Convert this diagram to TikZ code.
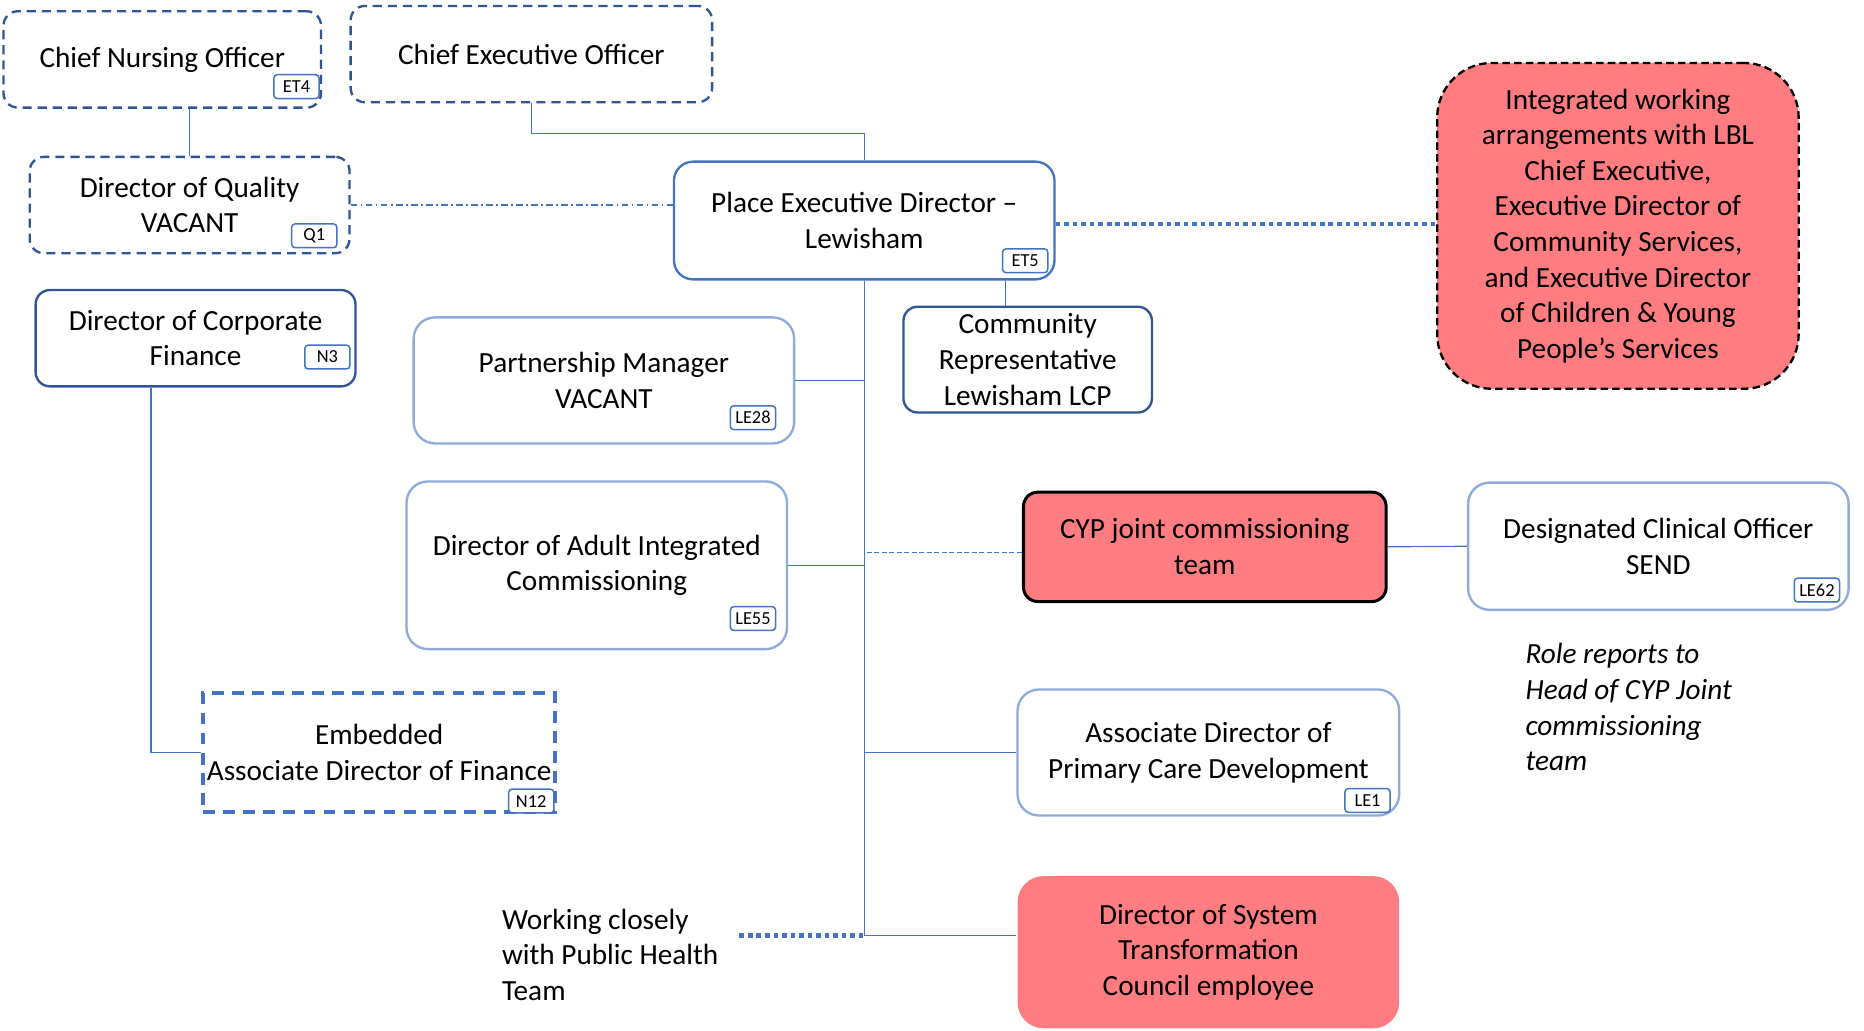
\documentclass[tikz,border=0pt]{standalone}
\usepackage{fontspec}
\setmainfont{Carlito}
\definecolor{darkblue}{RGB}{47,85,151}
\definecolor{midblue}{RGB}{68,114,196}
\definecolor{lightblue}{RGB}{143,170,220}
\definecolor{rolepink}{RGB}{255,124,128}
\tikzset{
	role/.style={draw, rounded corners=0.3cm, align=center, inner sep=1pt, text=black, line width=1.4pt, font=\fontsize{17.5}{21.3}\selectfont},
	vacant/.style={role, draw=darkblue, dash pattern=on 5.5pt off 3.5pt},
	lead/.style={role, draw=midblue, rounded corners=0.4cm},
	senior/.style={role, draw=darkblue},
	team/.style={role, draw=lightblue, rounded corners=0.45cm},
	partner/.style={role, fill=rolepink},
	tagbox/.style={draw=midblue, fill=white, rounded corners=2pt, line width=0.9pt, inner sep=1pt, anchor=south east, minimum width=0.95cm, minimum height=0.5cm, font=\fontsize{11}{13}\selectfont},
	link/.style={midblue, line width=0.7pt},
	bolddots/.style={midblue, line width=2.8pt, dash pattern=on 2.8pt off 2.3pt},
	note/.style={align=left, inner sep=0pt, font=\fontsize{17.5}{21.3}\selectfont}
}
\begin{document}
\begin{tikzpicture}[x=0.025cm, y=-0.025cm]
		\useasboundingbox (0,0) rectangle (1568,867);
		% Nodes
		\node[vacant, minimum width=6.675cm, minimum height=2.025cm] (cno) at (136.5,50) {Chief Nursing Officer};
		\node[vacant, minimum width=7.6cm, minimum height=2.025cm] (ceo) at (447,45.5) {Chief Executive Officer};
		\node[vacant, minimum width=6.725cm, minimum height=2.025cm] (doq) at (159.5,172.5) {Director of Quality\\VACANT};
		\node[lead, minimum width=8cm, minimum height=2.475cm] (ped) at (727,185.5) {Place Executive Director --\\Lewisham};
		\node[partner, draw=black, dash pattern=on 4.5pt off 2.5pt, rounded corners=1.15cm, minimum width=7.6cm, minimum height=6.85cm] (integ) at (1361,190) {Integrated working\\arrangements with LBL\\Chief Executive,\\Executive Director of\\Community Services,\\and Executive Director\\of Children \& Young\\People’s Services};
		\node[senior, minimum width=6.725cm, minimum height=2.025cm] (dcf) at (164.5,284.5) {Director of Corporate\\Finance};
		\node[team, minimum width=8cm, minimum height=2.65cm] (pm) at (508,320) {Partnership Manager\\VACANT};
		\node[senior, minimum width=5.225cm, minimum height=2.225cm] (comm) at (864.5,302.5) {Community\\Representative\\Lewisham LCP};
		\node[team, minimum width=8cm, minimum height=3.525cm] (adult) at (502,475.5) {Director of Adult Integrated\\Commissioning};
		\node[partner, draw=black, line width=1.8pt, minimum width=7.625cm, minimum height=2.3cm] (cyp) at (1013.5,460) {CYP joint commissioning\\team};
		\node[team, minimum width=8cm, minimum height=2.675cm] (dco) at (1395,459.5) {Designated Clinical Officer\\SEND};
		\node[note, font=\fontsize{17.5}{21.3}\selectfont\itshape, anchor=west] (cypnote) at (1283,595) {Role reports to\\Head of CYP Joint\\commissioning\\team};
		\node[role, draw=midblue, rounded corners=0pt, line width=2.1pt, dash pattern=on 7pt off 5pt, minimum width=7.4cm, minimum height=2.5cm] (emb) at (319,633) {Embedded\\Associate Director of Finance};
		\node[team, minimum width=8.025cm, minimum height=2.65cm] (apc) at (1016.5,633) {Associate Director of\\Primary Care Development};
		\node[note, anchor=west] (phnote) at (422,803) {Working closely\\with Public Health\\Team};
		\node[partner, draw=none, rounded corners=0.55cm, minimum width=8.025cm, minimum height=3.2cm] (dst) at (1016.5,801) {Director of System\\Transformation\\Council employee};
		% Tags
		\node[tagbox] (cnotag) at ([shift={(-2,-8)}]cno.south east) {ET4};
		\node[tagbox] (doqtag) at ([shift={(-11,-5)}]doq.south east) {Q1};
		\node[tagbox] (pedtag) at ([shift={(-6,-6)}]ped.south east) {ET5};
		\node[tagbox] (dcftag) at ([shift={(-5,-15)}]dcf.south east) {N3};
		\node[tagbox] (pmtag) at ([shift={(-16,-12)}]pm.south east) {LE28};
		\node[tagbox] (adulttag) at ([shift={(-10,-16)}]adult.south east) {LE55};
		\node[tagbox] (dcotag) at ([shift={(-8,-7)}]dco.south east) {LE62};
		\node[tagbox] (embtag) at ([shift={(-2,0)}]emb.south east) {N12};
		\node[tagbox] (apctag) at ([shift={(-8,-3)}]apc.south east) {LE1};
		% Lines
		\coordinate (spine) at (727,787);
		\coordinate (phend) at (622,787);
		\draw[link] (doq.north) -- (doq.north |- cno.south);
		\draw[link] (ceo.south) -- ++(0,25) -| (ped.north);
		\draw[link, dash pattern=on 4pt off 2pt on 1pt off 2pt] (doq.east) -- (doq.east -| ped.west);
		\draw[bolddots] ([yshift=-0.07cm]ped.east) -- ([yshift=-0.07cm]ped.east -| integ.west);
		\draw[link] ([xshift=-0.475cm]comm.north) -- ([xshift=-0.475cm]comm.north |- ped.south);
		\draw[link] (ped.south) -- (spine) -- (spine -| dst.west);
		\draw[link] (pm.east) -- (pm.east -| spine);
		\draw[link] (adult.east) -- (adult.east -| spine);
		\draw[link, dash pattern=on 3pt off 1.5pt] ([yshift=-0.12cm]cyp.west) -- ([yshift=-0.12cm]cyp.west -| spine);
		\draw[link] (cyp.east) -- (dco.west);
		\draw[link] (apc.west) -- (apc.west -| spine);
		\draw[link] ([xshift=-0.9375cm]dcf.south) |- (emb.west);
		\draw[bolddots] (phend) -- (spine);
	\end{tikzpicture}
\end{document}
